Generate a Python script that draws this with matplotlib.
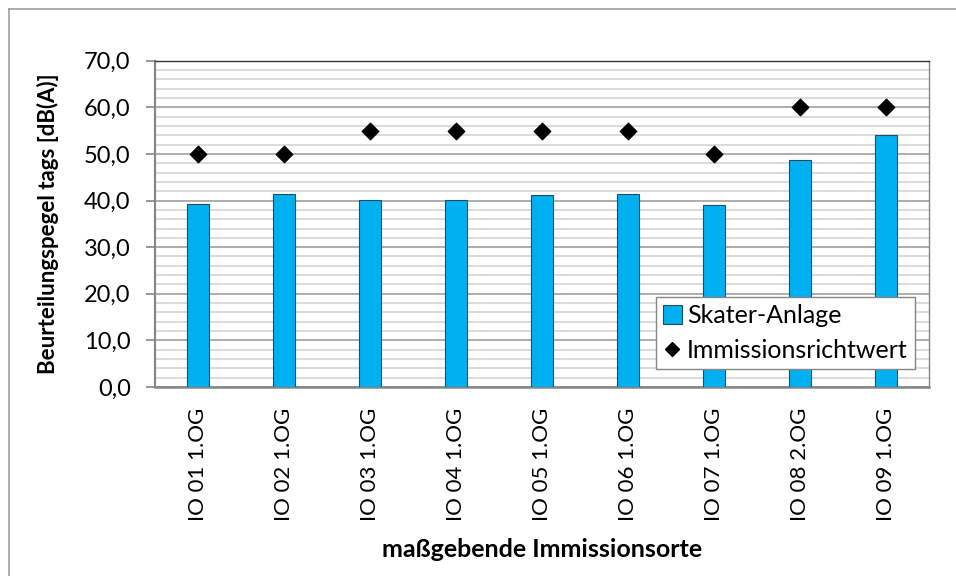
import matplotlib.pyplot as plt
from matplotlib.ticker import MultipleLocator, FuncFormatter
from matplotlib.lines import Line2D
from matplotlib.patches import Patch

plt.rcParams['font.family'] = ['Lato', 'DejaVu Sans']

# Immissionsorte und Pegel
orte = ['IO 01 1.OG', 'IO 02 1.OG', 'IO 03 1.OG', 'IO 04 1.OG', 'IO 05 1.OG',
        'IO 06 1.OG', 'IO 07 1.OG', 'IO 08 2.OG', 'IO 09 1.OG']
skater = [39.2, 41.5, 40.2, 40.2, 41.2, 41.3, 39.0, 48.6, 54.1]
richtwert = [50, 50, 55, 55, 55, 55, 50, 60, 60]

fig = plt.figure(figsize=(9.56, 5.76), dpi=100)
ax = fig.add_axes([0.1621, 0.3281, 0.8097, 0.5665])

x = range(len(orte))
ax.bar(x, skater, width=0.25, color='#00B0F0', edgecolor='#1F4E60',
       linewidth=0.8, zorder=3)
ax.scatter(x, richtwert, marker='D', s=70, color='black', zorder=4)

ax.set_xlim(-0.5, len(orte) - 0.5)
ax.set_ylim(0, 70)
ax.yaxis.set_major_locator(MultipleLocator(10))
ax.yaxis.set_minor_locator(MultipleLocator(2))
ax.yaxis.set_major_formatter(FuncFormatter(lambda v, p: f'{v:.1f}'.replace('.', ',')))
ax.grid(which='minor', axis='y', color='#D4D4D4', linewidth=1.2, zorder=0)
ax.grid(which='major', axis='y', color='#A0A0A0', linewidth=1.2, zorder=1)
ax.tick_params(axis='y', which='minor', length=0)
ax.tick_params(axis='y', which='major', length=6.5, color='#868686', width=1.2,
               labelsize=17, pad=11)
ax.tick_params(axis='x', length=0, labelsize=16, pad=15)

ax.set_xticks(list(x))
ax.set_xticklabels(orte, rotation=90)

for side in ['left', 'bottom', 'right']:
    ax.spines[side].set_color('#868686')
ax.spines['left'].set_linewidth(1.5)
ax.spines['bottom'].set_linewidth(1.8)
ax.spines['right'].set_linewidth(1.0)
ax.spines['top'].set_color('#333333')
ax.spines['top'].set_linewidth(1.0)

ax.set_ylabel('Beurteilungspegel tags [dB(A)]', fontsize=16, fontweight='bold',
              labelpad=18)
ax.set_xlabel('maßgebende Immissionsorte', fontsize=18, fontweight='bold')
ax.xaxis.set_label_coords(0.5, -0.462)

handles = [Patch(facecolor='#00B0F0', edgecolor='#1F4E60', linewidth=0.8),
           Line2D([], [], marker='D', color='black', linestyle='none', markersize=7)]
leg = ax.legend(handles, ['Skater-Anlage', 'Immissionsrichtwert'],
                loc='lower right', bbox_to_anchor=(0.982, 0.055), fontsize=18,
                fancybox=False, framealpha=1, edgecolor='#868686',
                handlelength=0.75, handleheight=0.75, handletextpad=0.2,
                borderpad=0.3, labelspacing=0.45, borderaxespad=0)
leg.get_frame().set_linewidth(1.0)
leg.set_zorder(5)

# Rahmen um das Diagramm
fig.add_artist(Line2D([9 / 956, 9 / 956], [0, 1 - 9 / 576], transform=fig.transFigure,
                      color='#A0A0A0', linewidth=1.2))
fig.add_artist(Line2D([9 / 956, 1], [1 - 9 / 576, 1 - 9 / 576], transform=fig.transFigure,
                      color='#A0A0A0', linewidth=1.2))

fig.savefig('out.png', dpi=100)
